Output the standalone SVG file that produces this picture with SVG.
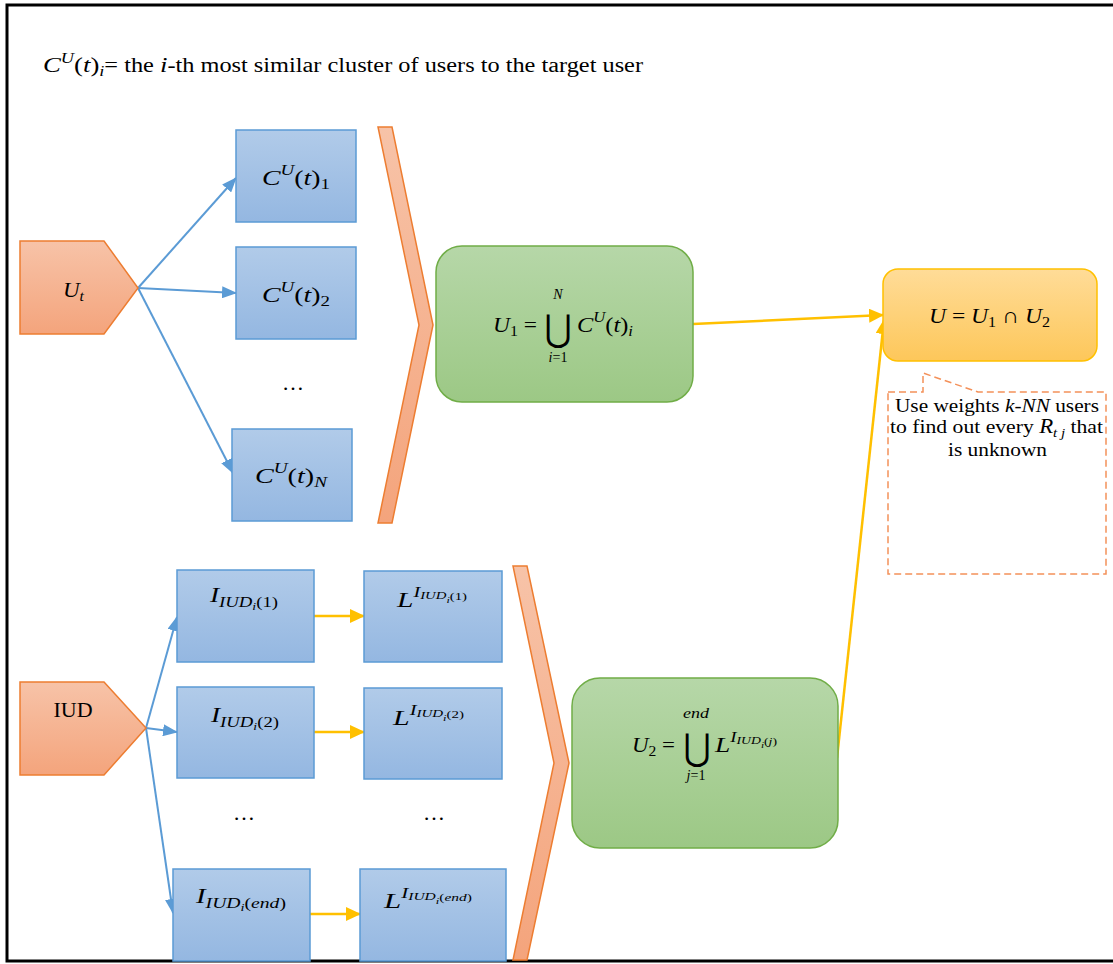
<svg xmlns="http://www.w3.org/2000/svg" width="1113" height="964" viewBox="0 0 1113 964">
<defs>
<linearGradient id="gBlue" x1="0" y1="0" x2="0" y2="1"><stop offset="0" stop-color="#b1cbe9"/><stop offset="1" stop-color="#94b7e1"/></linearGradient>
<linearGradient id="gOr" x1="0" y1="0" x2="0" y2="1"><stop offset="0" stop-color="#f7c3a8"/><stop offset="1" stop-color="#f4a47c"/></linearGradient>
<linearGradient id="gGreen" x1="0" y1="0" x2="0" y2="1"><stop offset="0" stop-color="#b6d7a8"/><stop offset="1" stop-color="#9cc885"/></linearGradient>
<linearGradient id="gYel" x1="0" y1="0" x2="0" y2="1"><stop offset="0" stop-color="#ffdc98"/><stop offset="1" stop-color="#fdc75a"/></linearGradient>
<marker id="aBlue" markerUnits="userSpaceOnUse" markerWidth="15" markerHeight="12" refX="14" refY="6" orient="auto"><path d="M0,0 L15,6 L0,12 z" fill="#5b9bd5"/></marker>
<marker id="aYel" markerUnits="userSpaceOnUse" markerWidth="15" markerHeight="14" refX="14" refY="7" orient="auto"><path d="M0,0 L15,7 L0,14 z" fill="#ffc000"/></marker>
</defs>
<style>
.box{fill:url(#gBlue);stroke:#5b9bd5;stroke-width:1.5}
.pent{fill:url(#gOr);stroke:#ed7d31;stroke-width:1.5}
.chev{fill:url(#gOr);stroke:#ed7d31;stroke-width:1.5}
.grn{fill:url(#gGreen);stroke:#70ad47;stroke-width:1.5}
.yel{fill:url(#gYel);stroke:#ffc000;stroke-width:1.5}
.bl{stroke:#5b9bd5;stroke-width:2;fill:none;marker-end:url(#aBlue)}
.yl{stroke:#ffc000;stroke-width:2.5;fill:none;marker-end:url(#aYel)}
.m{font-family:"Liberation Serif","DejaVu Serif",serif;font-size:22px;fill:#000}
.t{font-family:"Liberation Serif","DejaVu Serif",serif;fill:#000}
.i{font-style:italic}
.s{font-size:15px}
.ss{font-size:11px}
.xs{font-size:9px}
.lim{font-size:14px}
.big{font-family:"DejaVu Sans","DejaVu Serif",sans-serif;font-size:37px;fill:#000}
</style>
<rect x="0" y="0" width="1113" height="964" fill="#fff"/>
<rect id="frame" x="7" y="5" width="1112" height="956" fill="none" stroke="#000" stroke-width="3"/>

<g id="title">
<text x="43" y="72" class="t" style="font-size:20px" textLength="600" lengthAdjust="spacingAndGlyphs"><tspan class="m i">C</tspan><tspan class="m i s" dy="-9">U</tspan><tspan class="m" dy="9">(</tspan><tspan class="m i">t</tspan><tspan class="m">)</tspan><tspan class="m i s" dy="4">i</tspan><tspan dy="-4">= the </tspan><tspan class="m i">i</tspan>-th most similar cluster of users to the target user</text>
</g>

<g id="connectors">
<line class="bl" x1="138" y1="288" x2="236" y2="178"/>
<line class="bl" x1="138" y1="288" x2="236" y2="293"/>
<line class="bl" x1="138" y1="288" x2="233" y2="473"/>
<line class="bl" x1="146" y1="728" x2="177" y2="617"/>
<line class="bl" x1="146" y1="728" x2="177" y2="732"/>
<line class="bl" x1="146" y1="728" x2="173" y2="913"/>
<line class="yl" x1="314" y1="616" x2="364" y2="616"/>
<line class="yl" x1="314" y1="732" x2="364" y2="732"/>
<line class="yl" x1="310" y1="914" x2="360" y2="914"/>
<line class="yl" x1="693" y1="324" x2="883" y2="315"/>
<line class="yl" x1="837" y1="758" x2="884" y2="320"/>
</g>

<g id="Ut">
<polygon class="pent" points="20,241 104,241 138,288 104,334 20,334"/>
<text x="63" y="297" class="m" textLength="21" lengthAdjust="spacingAndGlyphs"><tspan class="i">U</tspan><tspan class="i s" dy="4">t</tspan></text>
</g>

<g id="C1">
<rect class="box" x="236" y="130" width="120" height="92"/>
<text x="262" y="185" class="m" textLength="68" lengthAdjust="spacingAndGlyphs"><tspan class="i">C</tspan><tspan class="i s" dy="-10">U</tspan><tspan dy="10">(</tspan><tspan class="i">t</tspan>)<tspan class="s" dy="4">1</tspan></text>
</g>
<g id="C2">
<rect class="box" x="236" y="247" width="120" height="92"/>
<text x="262" y="302" class="m" textLength="68" lengthAdjust="spacingAndGlyphs"><tspan class="i">C</tspan><tspan class="i s" dy="-10">U</tspan><tspan dy="10">(</tspan><tspan class="i">t</tspan>)<tspan class="s" dy="4">2</tspan></text>
</g>
<g id="dots1"><text x="293" y="390" class="m" text-anchor="middle">…</text></g>
<g id="CN">
<rect class="box" x="232" y="429" width="120" height="92"/>
<text x="255" y="483" class="m" textLength="72" lengthAdjust="spacingAndGlyphs"><tspan class="i">C</tspan><tspan class="i s" dy="-10">U</tspan><tspan dy="10">(</tspan><tspan class="i">t</tspan>)<tspan class="i s" dy="4">N</tspan></text>
</g>

<g id="chevron1"><polygon class="chev" points="378,127 392,127 433,325 392,523 378,523 419,325"/></g>

<g id="U1box">
<rect class="grn" x="436" y="246" width="257" height="156" rx="26"/>
<text x="493" y="332" class="m" textLength="44" lengthAdjust="spacingAndGlyphs"><tspan class="i">U</tspan><tspan class="s" dy="4">1</tspan><tspan dy="-4"> =</tspan></text>
<text class="big" text-anchor="middle" transform="translate(558,341) scale(0.9,1)">⋃</text>
<text x="558" y="299" class="m i lim" text-anchor="middle">N</text>
<text x="558" y="362" class="m lim" text-anchor="middle"><tspan class="i">i</tspan>=1</text>
<text x="577" y="332" class="m" textLength="56" lengthAdjust="spacingAndGlyphs"><tspan class="i">C</tspan><tspan class="i s" dy="-10">U</tspan><tspan dy="10">(</tspan><tspan class="i">t</tspan>)<tspan class="i s" dy="4">i</tspan></text>
</g>

<g id="IUD">
<polygon class="pent" points="20,682 104,682 146,728 104,775 20,775"/>
<text x="73" y="717" class="t" style="font-size:22px" text-anchor="middle">IUD</text>
</g>

<g id="I1">
<rect class="box" x="177" y="570" width="137" height="92"/>
<text x="210" y="602" class="m" textLength="68" lengthAdjust="spacingAndGlyphs"><tspan class="i">I</tspan><tspan class="i s" dy="5">IUD</tspan><tspan class="i ss" dy="3">i</tspan><tspan class="s" dy="-3">(1)</tspan></text>
</g>
<g id="I2">
<rect class="box" x="177" y="687" width="137" height="91"/>
<text x="211" y="722" class="m" textLength="68" lengthAdjust="spacingAndGlyphs"><tspan class="i">I</tspan><tspan class="i s" dy="5">IUD</tspan><tspan class="i ss" dy="3">i</tspan><tspan class="s" dy="-3">(2)</tspan></text>
</g>
<g id="dots2"><text x="244" y="820" class="m" text-anchor="middle">…</text></g>
<g id="Iend">
<rect class="box" x="173" y="869" width="137" height="92"/>
<text x="196" y="903" class="m" textLength="90" lengthAdjust="spacingAndGlyphs"><tspan class="i">I</tspan><tspan class="i s" dy="5">IUD</tspan><tspan class="i ss" dy="3">i</tspan><tspan class="s" dy="-3">(</tspan><tspan class="i s">end</tspan><tspan class="s">)</tspan></text>
</g>

<g id="L1">
<rect class="box" x="364" y="571" width="138" height="91"/>
<text x="397" y="607" class="m" textLength="70" lengthAdjust="spacingAndGlyphs"><tspan class="i">L</tspan><tspan class="i s" dy="-10">I</tspan><tspan class="i ss" dy="2">IUD</tspan><tspan class="i xs" dy="4">i</tspan><tspan class="ss" dy="-3">(1)</tspan></text>
</g>
<g id="L2">
<rect class="box" x="364" y="688" width="138" height="91"/>
<text x="393" y="725" class="m" textLength="71" lengthAdjust="spacingAndGlyphs"><tspan class="i">L</tspan><tspan class="i s" dy="-10">I</tspan><tspan class="i ss" dy="2">IUD</tspan><tspan class="i xs" dy="4">i</tspan><tspan class="ss" dy="-3">(2)</tspan></text>
</g>
<g id="dots3"><text x="434" y="820" class="m" text-anchor="middle">…</text></g>
<g id="Lend">
<rect class="box" x="360" y="869" width="146" height="92"/>
<text x="384" y="908" class="m" textLength="88" lengthAdjust="spacingAndGlyphs"><tspan class="i">L</tspan><tspan class="i s" dy="-10">I</tspan><tspan class="i ss" dy="2">IUD</tspan><tspan class="i xs" dy="4">i</tspan><tspan class="ss" dy="-3">(</tspan><tspan class="i ss">end</tspan><tspan class="ss">)</tspan></text>
</g>

<g id="chevron2"><polygon class="chev" points="513,566 527,566 569,763 527,960 513,960 554,763"/></g>

<g id="U2box">
<rect class="grn" x="572" y="678" width="266" height="170" rx="28"/>
<text x="632" y="752" class="m" textLength="43" lengthAdjust="spacingAndGlyphs"><tspan class="i">U</tspan><tspan class="s" dy="4">2</tspan><tspan dy="-4"> =</tspan></text>
<text class="big" text-anchor="middle" transform="translate(697,760) scale(0.9,1)">⋃</text>
<text x="683" y="718" class="m i lim" textLength="26" lengthAdjust="spacingAndGlyphs">end</text>
<text x="696" y="780" class="m lim" text-anchor="middle"><tspan class="i">j</tspan>=1</text>
<text x="715" y="752" class="m" textLength="62" lengthAdjust="spacingAndGlyphs"><tspan class="i">L</tspan><tspan class="i s" dy="-10">I</tspan><tspan class="i ss" dy="2">IUD</tspan><tspan class="i xs" dy="4">i</tspan><tspan class="ss" dy="-3">(</tspan><tspan class="i ss">j</tspan><tspan class="ss">)</tspan></text>
</g>

<g id="Ubox">
<rect class="yel" x="883" y="269" width="214" height="92" rx="15"/>
<text x="929" y="323" class="m" textLength="121" lengthAdjust="spacingAndGlyphs"><tspan class="i">U</tspan> = <tspan class="i">U</tspan><tspan class="s" dy="4">1</tspan><tspan dy="-4"> ∩ </tspan><tspan class="i">U</tspan><tspan class="s" dy="4">2</tspan></text>
</g>

<g id="callout">
<path d="M888,392 H923 V373 L978,392 H1106 V574 H888 Z" fill="#fff" stroke="#f4915a" stroke-width="1.5" stroke-dasharray="7,4"/>
<text x="895" y="412" class="t" style="font-size:19px" textLength="204" lengthAdjust="spacingAndGlyphs">Use weights <tspan class="i">k-NN</tspan> users</text>
<text x="890" y="433" class="t" style="font-size:19px" textLength="213" lengthAdjust="spacingAndGlyphs">to find out every <tspan class="m i" style="font-size:20px">R</tspan><tspan class="m i" style="font-size:13px" dy="4">t j</tspan><tspan dy="-4"> that</tspan></text>
<text x="948" y="456" class="t" style="font-size:19px" textLength="99" lengthAdjust="spacingAndGlyphs">is unknown</text>
</g>
</svg>
